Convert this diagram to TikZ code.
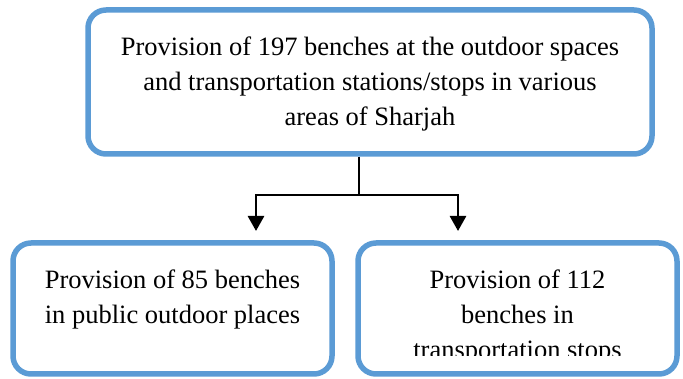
\documentclass[tikz,border=0pt]{standalone}
\usepackage{fontspec}
\setmainfont{Liberation Serif}
\usepackage{tikz}
\usetikzlibrary{arrows.meta,positioning}
\definecolor{boxblue}{RGB}{91,155,213}
\tikzset{%
	goalbox/.style = {draw=boxblue, line width=5.5pt, rectangle, rounded corners=18pt, fill=white},
	boxtext/.style = {align=center, inner sep=0pt, font=\fontsize{26.5}{35}\selectfont},
	link/.style    = {line width=2.7pt},
	arrow/.style   = {line width=2.7pt, -{Triangle[length=15pt,width=16pt]}},
}

\begin{document}
\begin{tikzpicture}[x=1pt,y=-1pt]
	\useasboundingbox (0,0) rectangle (683,379);
	
	\node[goalbox, minimum width=564pt, minimum height=144pt] (top) at (370,82) {};
	\node[boxtext] (toptext) at (370,84) {Provision of 197 benches at the outdoor spaces\\and transportation stations/stops in various\\areas of Sharjah};
	
	\node[goalbox, minimum width=319pt, minimum height=131pt] (left) at (172.5,308.5) {};
	\node[boxtext, anchor=north] (lefttext) at (172.5,270) {Provision of 85 benches\\in public outdoor places};
	
	\node[goalbox, minimum width=319pt, minimum height=131pt] (right) at (517.5,308.5) {};
	\begin{scope}
		\clip (358,243) rectangle (677,356);
		\node[boxtext, anchor=north] (righttext) at (517.5,270) {Provision of 112\\benches in\\transportation stops};
	\end{scope}
	
	\coordinate (fork) at (359,195);
	\coordinate (tipL) at (256,231);
	\coordinate (tipR) at (458,231);
	\draw[link] (top.south -| fork) -- (fork);
	\draw[arrow] (fork) -| (tipL);
	\draw[arrow] (fork) -| (tipR);
\end{tikzpicture}
\end{document}
